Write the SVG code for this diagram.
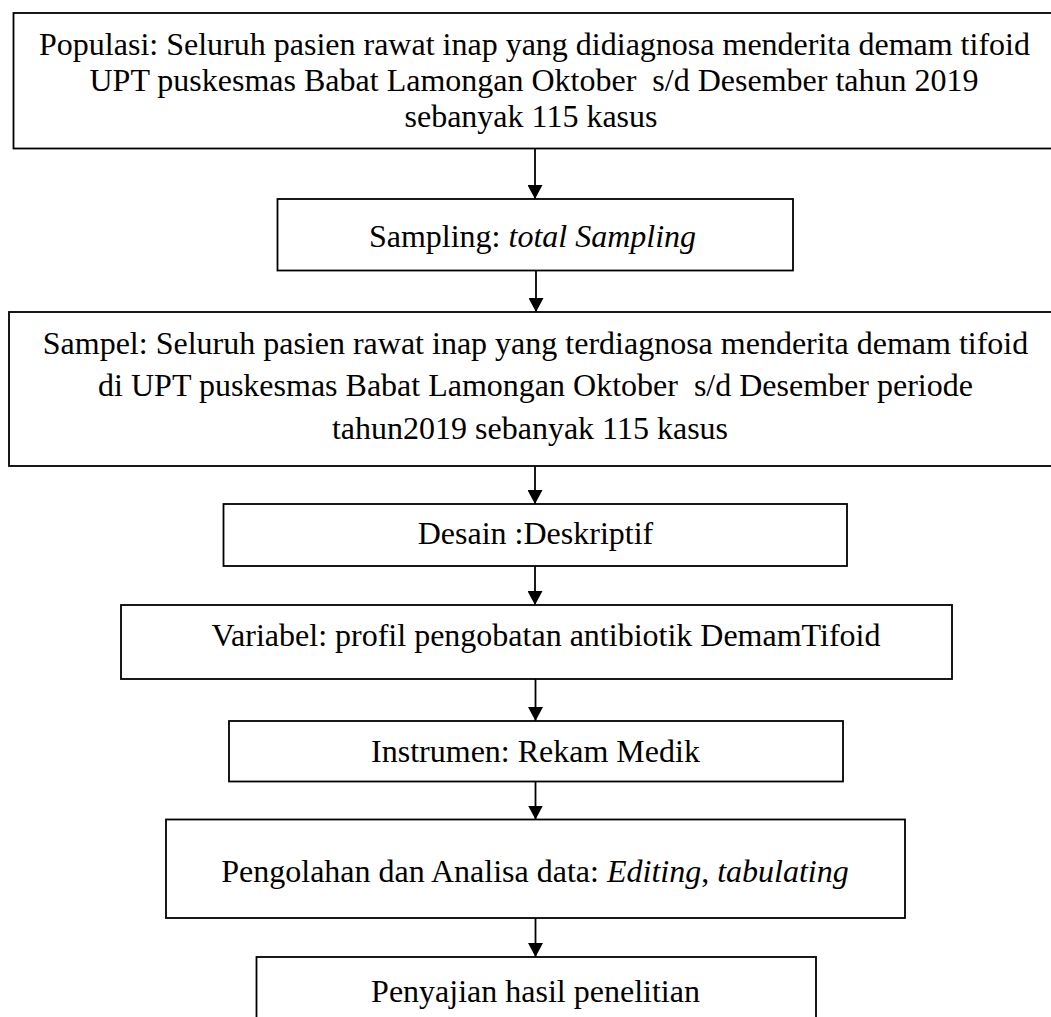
<svg xmlns="http://www.w3.org/2000/svg" width="1051" height="1017" viewBox="0 0 1051 1017">
<defs>
<style>
.box{fill:#fff;stroke:#000;stroke-width:1.8}
.t{font-family:"Liberation Serif","Times New Roman",serif;font-size:32px;fill:#000;text-anchor:middle}
.i{font-style:italic}
.c{stroke:#000;stroke-width:1.8;fill:none}
</style>
<marker id="ah" viewBox="0 0 14 15" refX="14" refY="7.5" markerWidth="14" markerHeight="15" markerUnits="userSpaceOnUse" orient="auto">
<path d="M0,0 L14,7.5 L0,15 Z" fill="#000"/>
</marker>
</defs>
<rect width="1051" height="1017" fill="#fff"/>
<g id="n1">
<rect class="box" x="13.5" y="13" width="1060" height="135.5"/>
<text class="t" x="534.5" y="55">Populasi: Seluruh pasien rawat inap yang didiagnosa menderita demam tifoid</text>
<text class="t" x="534" y="90.5" xml:space="preserve">UPT puskesmas Babat Lamongan Oktober  s/d Desember tahun 2019</text>
<text class="t" x="531" y="126.5">sebanyak 115 kasus</text>
</g>
<g id="n2">
<rect class="box" x="277.5" y="199" width="515.5" height="71.5"/>
<text class="t" x="532.5" y="247">Sampling: <tspan class="i">total Sampling</tspan></text>
</g>
<g id="n3">
<rect class="box" x="9" y="312" width="1060" height="154"/>
<text class="t" x="535.5" y="353.5">Sampel: Seluruh pasien rawat inap yang terdiagnosa menderita demam tifoid</text>
<text class="t" x="535.5" y="396" xml:space="preserve">di UPT puskesmas Babat Lamongan Oktober  s/d Desember periode</text>
<text class="t" x="530" y="438.5">tahun2019 sebanyak 115 kasus</text>
</g>
<g id="n4">
<rect class="box" x="223.5" y="504" width="623.5" height="62"/>
<text class="t" x="535.5" y="543.5">Desain :Deskriptif</text>
</g>
<g id="n5">
<rect class="box" x="121" y="605" width="831" height="74"/>
<text class="t" x="546" y="646">Variabel: profil pengobatan antibiotik DemamTifoid</text>
</g>
<g id="n6">
<rect class="box" x="229" y="721" width="614" height="60.5"/>
<text class="t" x="535.5" y="761.5">Instrumen: Rekam Medik</text>
</g>
<g id="n7">
<rect class="box" x="166" y="819.5" width="739" height="98.5"/>
<text class="t" x="535" y="882">Pengolahan dan Analisa data: <tspan class="i">Editing</tspan>, <tspan class="i">tabulating</tspan></text>
</g>
<g id="n8">
<rect class="box" x="256.5" y="957" width="559.5" height="80"/>
<text class="t" x="535.5" y="1001.5">Penyajian hasil penelitian</text>
</g>
<g id="connectors">
<line class="c" x1="535" y1="148.5" x2="535" y2="199" marker-end="url(#ah)"/>
<line class="c" x1="536" y1="270.5" x2="536" y2="312" marker-end="url(#ah)"/>
<line class="c" x1="535" y1="466" x2="535" y2="504" marker-end="url(#ah)"/>
<line class="c" x1="535" y1="566" x2="535" y2="605" marker-end="url(#ah)"/>
<line class="c" x1="535.5" y1="679" x2="535.5" y2="721" marker-end="url(#ah)"/>
<line class="c" x1="535.5" y1="781.5" x2="535.5" y2="819.5" marker-end="url(#ah)"/>
<line class="c" x1="535.5" y1="918" x2="535.5" y2="957" marker-end="url(#ah)"/>
</g>
</svg>
